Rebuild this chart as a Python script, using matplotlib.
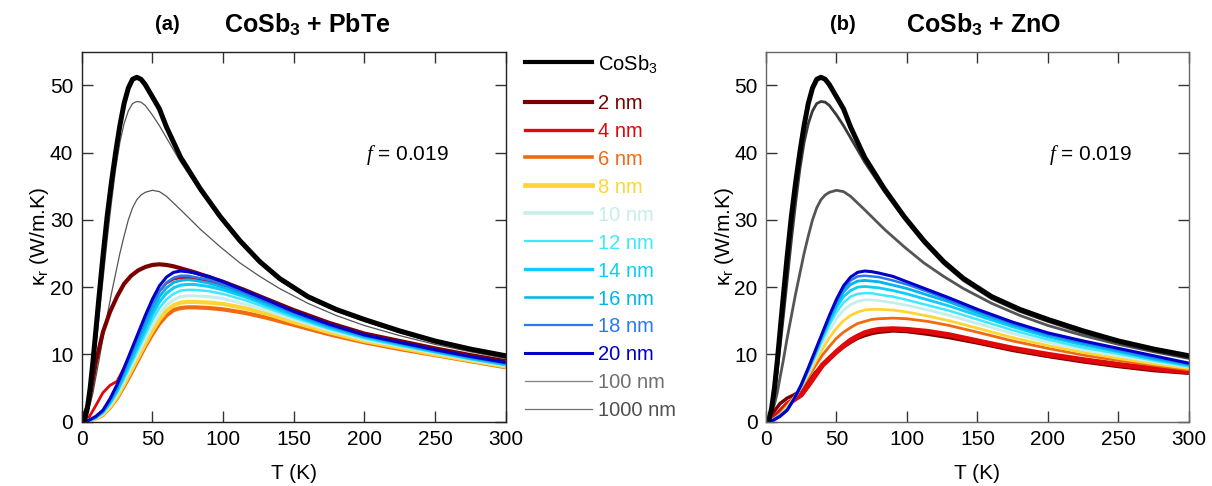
import matplotlib
matplotlib.use('Agg')
import matplotlib.pyplot as plt
from matplotlib.lines import Line2D

plt.rcParams['font.family'] = ['Liberation Sans', 'DejaVu Sans']
plt.rcParams['mathtext.fontset'] = 'custom'
plt.rcParams['mathtext.rm'] = 'Liberation Sans'
plt.rcParams['mathtext.bf'] = 'Liberation Sans:bold'
plt.rcParams['mathtext.it'] = 'Liberation Serif:italic'

# temperature grids (K)
T_bulk = [0, 2, 4, 6, 8, 10, 12, 15, 18, 21, 24, 27, 30, 33, 36, 39, 42, 45, 50, 55,
          60, 70, 84, 98, 112, 126, 140, 160, 180, 200, 225, 250, 275, 300]
T_np = [0, 5, 10, 15, 20, 25, 30, 35, 40, 45, 50, 55, 60, 65, 70, 75, 80, 90, 100,
        115, 130, 150, 175, 200, 225, 250, 275, 300]

# pure CoSb3 and large particles (same in both panels)
k_cosb3 = [0, 0.2, 2, 5, 9, 13.5, 18, 24.5, 30.5, 35.5, 40, 44, 47.3, 49.6, 50.9, 51.2, 50.9,
           50.1, 48.3, 46.5, 43.8, 39.3, 34.6, 30.5, 26.9, 23.8, 21.3, 18.6, 16.7, 15.2, 13.5,
           12.0, 10.8, 9.8]
k_1000 = [0, 0.1, 1.4, 4, 7.5, 11.2, 15, 21, 27, 32.5, 37.5, 41.5, 44.3, 46.2, 47.3, 47.6, 47.5,
          47.0, 45.6, 44.0, 42.2, 38.6, 34.2, 30.2, 26.6, 23.5, 21.0, 18.3, 16.4, 14.9, 13.2,
          11.7, 10.5, 9.5]
k_100 = [0, 0.4, 1.3, 2.6, 4.3, 6.6, 8.8, 12.4, 15.7, 19, 22, 25, 27.6, 30, 31.8, 33, 33.7,
         34.1, 34.4, 34.2, 33.5, 31.5, 28.6, 26.0, 23.6, 21.6, 19.8, 17.6, 15.8, 14.3, 12.8,
         11.5, 10.4, 9.4]

# (a) CoSb3 + PbTe
a_2 = [0, 2.8, 8.8, 13.3, 16.3, 18.6, 20.5, 21.7, 22.5, 23.0, 23.3, 23.4, 23.3, 23.1, 22.8,
       22.5, 22.2, 21.5, 20.8, 19.6, 18.3, 16.6, 14.7, 13.1, 12.0, 10.9, 9.9, 9.0]
a_4 = [0, 0.6, 2.4, 4.3, 5.4, 6.0, 8.0, 10.4, 13.0, 15.4, 17.6, 19.4, 20.6, 21.2, 21.4, 21.4,
       21.2, 20.8, 20.1, 19.0, 17.8, 16.1, 14.3, 12.8, 11.7, 10.6, 9.6, 8.7]
a_6 = [0, 0.2, 0.5, 1.0, 2.1, 3.5, 5.3, 7.2, 9.2, 11.2, 13.0, 14.6, 15.8, 16.6, 16.9, 17.0,
       17.0, 16.9, 16.7, 16.2, 15.5, 14.4, 13.0, 11.8, 10.8, 9.9, 9.0, 8.1]
a_8 = [0, 0.2, 0.5, 1.1, 2.2, 3.7, 5.6, 7.6, 9.6, 11.6, 13.5, 15.2, 16.5, 17.3, 17.7, 17.8,
       17.8, 17.7, 17.5, 16.9, 16.1, 14.8, 13.3, 12.0, 11.0, 10.0, 9.1, 8.2]
a_10 = [0, 0.2, 0.5, 1.2, 2.4, 4.0, 6.0, 8.1, 10.2, 12.3, 14.3, 16.0, 17.3, 18.1, 18.6, 18.7,
        18.7, 18.6, 18.3, 17.5, 16.6, 15.2, 13.6, 12.2, 11.2, 10.2, 9.2, 8.3]
a_12 = [0, 0.2, 0.6, 1.3, 2.6, 4.3, 6.4, 8.6, 10.8, 13.0, 15.1, 16.9, 18.2, 19.0, 19.5, 19.6,
        19.6, 19.4, 19.0, 18.1, 17.0, 15.5, 13.8, 12.4, 11.3, 10.3, 9.3, 8.4]
a_14 = [0, 0.2, 0.6, 1.4, 2.8, 4.6, 6.8, 9.1, 11.4, 13.7, 15.9, 17.8, 19.1, 19.9, 20.3, 20.4,
        20.4, 20.1, 19.6, 18.6, 17.4, 15.8, 14.0, 12.6, 11.5, 10.4, 9.4, 8.5]
a_16 = [0, 0.2, 0.7, 1.5, 3.0, 4.9, 7.2, 9.6, 12.0, 14.4, 16.6, 18.6, 19.9, 20.7, 21.0, 21.1,
        21.0, 20.6, 20.0, 18.9, 17.7, 16.0, 14.2, 12.7, 11.6, 10.5, 9.5, 8.6]
a_18 = [0, 0.2, 0.7, 1.6, 3.2, 5.2, 7.6, 10.1, 12.6, 15.1, 17.4, 19.4, 20.7, 21.4, 21.7, 21.7,
        21.5, 21.1, 20.4, 19.2, 17.9, 16.2, 14.3, 12.8, 11.7, 10.6, 9.6, 8.7]
a_20 = [0, 0.2, 0.8, 1.7, 3.4, 5.5, 8.0, 10.6, 13.2, 15.8, 18.2, 20.2, 21.5, 22.2, 22.4, 22.3,
        22.1, 21.6, 20.8, 19.5, 18.2, 16.4, 14.5, 12.9, 11.8, 10.7, 9.7, 8.8]

# (b) CoSb3 + ZnO
b_2 = [0, 1.3, 2.7, 3.5, 4.0, 4.7, 5.9, 7.3, 8.4, 9.4, 10.3, 11.1, 11.8, 12.4, 12.8, 13.1,
       13.3, 13.5, 13.4, 13.0, 12.5, 11.7, 10.6, 9.7, 8.9, 8.2, 7.6, 7.2]
b_4 = [0, 0.4, 1.5, 2.6, 3.3, 4.0, 5.4, 6.9, 8.4, 9.4, 10.4, 11.3, 12.1, 12.7, 13.2, 13.5,
       13.7, 13.8, 13.7, 13.4, 12.9, 12.0, 10.9, 10.0, 9.2, 8.5, 7.9, 7.4]
b_6 = [0, 0.3, 1.2, 2.4, 3.6, 5.0, 6.6, 8.3, 9.9, 11.2, 12.4, 13.3, 14.0, 14.6, 14.9, 15.2,
       15.3, 15.4, 15.3, 14.9, 14.3, 13.3, 12.0, 10.9, 9.9, 9.1, 8.4, 7.7]
b_8 = [0, 0.3, 1.0, 2.2, 3.6, 5.2, 7.0, 8.9, 10.8, 12.5, 13.9, 15.0, 15.8, 16.3, 16.6, 16.7,
       16.7, 16.6, 16.3, 15.7, 15.0, 13.9, 12.5, 11.3, 10.3, 9.4, 8.6, 7.9]
b_10 = [0, 0.3, 0.9, 2.0, 3.4, 5.2, 7.2, 9.4, 11.6, 13.6, 15.3, 16.6, 17.4, 17.9, 18.1, 18.1,
        18.0, 17.7, 17.3, 16.6, 15.8, 14.6, 13.1, 11.8, 10.7, 9.8, 8.9, 8.1]
b_12 = [0, 0.3, 0.9, 1.9, 3.4, 5.3, 7.5, 9.8, 12.2, 14.4, 16.3, 17.7, 18.6, 19.0, 19.1, 19.1,
        18.9, 18.6, 18.1, 17.3, 16.5, 15.2, 13.6, 12.2, 11.0, 10.1, 9.1, 8.2]
b_14 = [0, 0.3, 0.9, 1.8, 3.4, 5.4, 7.7, 10.1, 12.6, 14.9, 17.0, 18.6, 19.5, 20.0, 20.1, 20.0,
        19.9, 19.5, 19.0, 18.1, 17.2, 15.8, 14.1, 12.6, 11.4, 10.4, 9.3, 8.4]
b_16 = [0, 0.2, 0.8, 1.8, 3.4, 5.4, 7.8, 10.3, 12.9, 15.3, 17.5, 19.3, 20.4, 20.9, 21.0, 20.9,
        20.8, 20.3, 19.8, 18.8, 17.8, 16.2, 14.4, 12.8, 11.6, 10.5, 9.4, 8.5]
b_18 = [0, 0.2, 0.8, 1.7, 3.4, 5.5, 7.9, 10.5, 13.1, 15.6, 17.9, 19.8, 21.0, 21.6, 21.7, 21.6,
        21.5, 21.0, 20.4, 19.3, 18.1, 16.5, 14.6, 13.0, 11.8, 10.7, 9.6, 8.6]
b_20 = [0, 0.2, 0.8, 1.7, 3.4, 5.5, 8.0, 10.6, 13.2, 15.8, 18.2, 20.2, 21.5, 22.2, 22.4, 22.3,
        22.1, 21.6, 20.8, 19.6, 18.4, 16.7, 14.8, 13.2, 12.0, 10.9, 9.8, 8.7]

sizes = ['2 nm', '4 nm', '6 nm', '8 nm', '10 nm', '12 nm', '14 nm', '16 nm', '18 nm', '20 nm']
colors = ['#7a0000', '#e00808', '#f06a10', '#ffd535', '#c6eeea',
          '#40e8ff', '#10ccf8', '#00b4ec', '#2a78f0', '#0000c8']
series_a = [a_2, a_4, a_6, a_8, a_10, a_12, a_14, a_16, a_18, a_20]
series_b = [b_2, b_4, b_6, b_8, b_10, b_12, b_14, b_16, b_18, b_20]
lw_a = [3.0, 2.0, 3.0, 3.0, 2.2, 1.8, 2.2, 2.0, 1.8, 2.2]
lw_b = [2.5, 3.8, 2.0, 2.0, 2.0, 1.8, 2.0, 2.0, 1.8, 2.2]

fig = plt.figure(figsize=(12.12, 4.86), dpi=100)
ax_a = fig.add_axes([0.0674, 0.1323, 0.3498, 0.7613])
ax_b = fig.add_axes([0.632, 0.1323, 0.349, 0.7613])


def draw_panel(ax, series, widths, big_color, big_lw, spine_color):
    ax.plot(T_bulk, k_100, color=big_color[0], lw=big_lw)
    ax.plot(T_bulk, k_1000, color=big_color[1], lw=big_lw)
    for vals, c, w in zip(series, colors, widths):
        ax.plot(T_np, vals, color=c, lw=w, solid_capstyle='butt')
    ax.plot(T_bulk, k_cosb3, color='black', lw=3.6)
    ax.set_xlim(0, 300)
    ax.set_ylim(0, 55)
    ax.set_xticks([0, 50, 100, 150, 200, 250, 300])
    ax.set_yticks([0, 10, 20, 30, 40, 50])
    ax.tick_params(direction='in', top=True, right=True, length=8, width=1,
                   labelsize=15, pad=6, color='#333333')
    for s in ax.spines.values():
        s.set_color(spine_color)
        s.set_linewidth(1.0)
    ax.set_xlabel('T (K)', fontsize=15, labelpad=11)
    ax.set_ylabel('κ$_\\mathrm{r}$ (W/m.K)', fontsize=15, labelpad=-1)
    ax.text(0.865, 0.72, '$f$ = 0.019', transform=ax.transAxes, fontsize=15,
            ha='right', va='center')


draw_panel(ax_a, series_a, lw_a, ['#555555', '#555555'], 0.9, '#222222')
draw_panel(ax_b, series_b, lw_b, ['#555555', '#3a3a3a'], 2.0, '#666666')

# panel titles
fig.text(167 / 1212, 1 - 24 / 486, '(a)', fontsize=14.5, fontweight='bold', ha='center', va='center')
fig.text(307 / 1212, 1 - 25 / 486, r'CoSb$_\mathbf{3}$ + PbTe', fontsize=18, fontweight='bold',
         ha='center', va='center')
fig.text(843 / 1212, 1 - 24 / 486, '(b)', fontsize=14.5, fontweight='bold', ha='center', va='center')
fig.text(984 / 1212, 1 - 25 / 486, r'CoSb$_\mathbf{3}$ + ZnO', fontsize=18, fontweight='bold',
         ha='center', va='center')

# legend between the panels
leg_labels = [r'CoSb$_3$'] + sizes + ['100 nm', '1000 nm']
leg_colors = ['black'] + colors + ['#808080', '#707070']
leg_text_colors = ['black'] + colors + ['#707070', '#505050']
leg_lw = [3.0, 3.0, 2.4, 2.6, 3.4, 2.6, 1.6, 2.4, 1.8, 1.6, 2.2, 0.9, 0.9]
leg_y = [61.7] + [101.7 + i * 27.9 for i in range(12)]
for lab, lc, tc, w, yp in zip(leg_labels, leg_colors, leg_text_colors, leg_lw, leg_y):
    yf = 1 - yp / 486
    fig.add_artist(Line2D([525 / 1212, 592 / 1212], [yf, yf], color=lc, lw=w,
                          transform=fig.transFigure))
    fig.text(598 / 1212, yf, lab, color=tc, fontsize=14.5, ha='left', va='center_baseline')

fig.savefig('out.png', dpi=100)
